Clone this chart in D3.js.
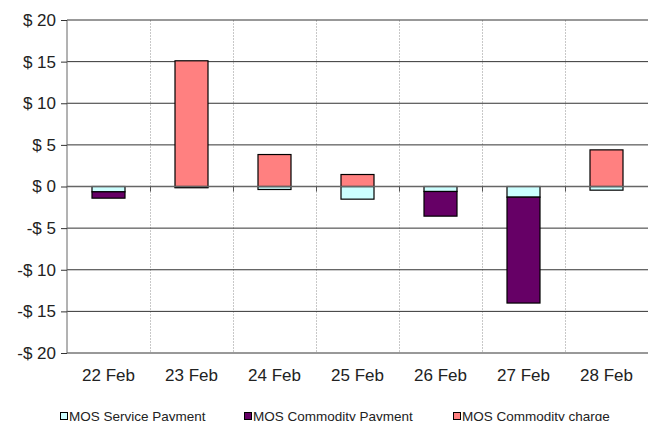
<!DOCTYPE html>
<html>
<head>
<meta charset="utf-8">
<script src="https://cdn.jsdelivr.net/npm/d3@7"></script>
<style>
  body { margin: 0; background: #fff; }
  svg text { font-family: "Liberation Sans", Arial, sans-serif; fill: #222; }
</style>
</head>
<body>
<svg id="chart" width="648" height="421"></svg>
<script>
const days = ["22 Feb", "23 Feb", "24 Feb", "25 Feb", "26 Feb", "27 Feb", "28 Feb"];
const servicePayment   = [-0.64, -0.05, -0.36, -1.52, -0.6, -1.28, -0.44];
const commodityPayment = [-0.76, -0.1, 0, 0, -2.96, -12.72, 0];
const commodityCharge  = [0, 15.1, 3.84, 1.44, 0, 0, 4.4];
const yTicks = [20, 15, 10, 5, 0, -5, -10, -15, -20];

const seriesInfo = [
  { key: "service", label: "MOS Service Payment", color: "#ccffff" },
  { key: "payment", label: "MOS Commodity Payment", color: "#660066" },
  { key: "charge", label: "MOS Commodity charge", color: "#ff8080" }
];

const rows = days.map((d, i) => ({
  day: d,
  service: servicePayment[i],
  payment: commodityPayment[i],
  charge: commodityCharge[i]
}));

const svg = d3.select("#chart");
const margin = { top: 20, right: 0, bottom: 68, left: 67 };
const width = +svg.attr("width");
const height = +svg.attr("height");

const x = d3.scaleBand()
  .domain(days)
  .range([margin.left, width - margin.right])
  .paddingInner(0)
  .paddingOuter(0);

const y = d3.scaleLinear()
  .domain([-20, 20])
  .range([height - margin.bottom, margin.top]);

// vertical dashed gridlines at category boundaries
svg.append("g")
  .selectAll("line")
  .data(days.slice(1))
  .join("line")
  .attr("x1", d => Math.round(x(d)) + 0.5)
  .attr("x2", d => Math.round(x(d)) + 0.5)
  .attr("y1", y(20))
  .attr("y2", y(-20))
  .attr("stroke", "#c8c8c8")
  .attr("stroke-dasharray", "2,1");

// horizontal gridlines
svg.append("g")
  .selectAll("line")
  .data(yTicks.filter(v => v !== 0))
  .join("line")
  .attr("x1", margin.left)
  .attr("x2", width)
  .attr("y1", d => y(d))
  .attr("y2", d => y(d))
  .attr("stroke", "#333")
  .attr("stroke-width", 1);

// y axis
const yAxis = d3.axisLeft(y)
  .tickValues(yTicks)
  .tickSize(6)
  .tickPadding(5)
  .tickFormat(d => d < 0 ? "-$ " + Math.abs(d) : "$ " + d);

const yAxisG = svg.append("g")
  .attr("transform", `translate(${margin.left},0)`)
  .call(yAxis);
yAxisG.select(".domain").attr("stroke", "#666").attr("d", `M0,${y(20)}V${y(-20)}`);
yAxisG.selectAll(".tick line").attr("stroke", "#333");
yAxisG.selectAll("text").style("font-size", "17px").attr("fill", "#222");

// stacked bars
const stack = d3.stack()
  .keys(seriesInfo.map(s => s.key))
  .offset(d3.stackOffsetDiverging);
const stacked = stack(rows);
const bw = 33;

svg.append("g")
  .selectAll("g")
  .data(stacked)
  .join("g")
  .attr("fill", (d, i) => seriesInfo[i].color)
  .selectAll("rect")
  .data(d => d.filter(p => p[1] !== p[0]))
  .join("rect")
  .attr("x", d => x(d.data.day) + x.bandwidth() / 2 - bw / 2)
  .attr("width", bw)
  .attr("y", d => y(Math.max(d[0], d[1])))
  .attr("height", d => Math.abs(y(d[0]) - y(d[1])))
  .attr("stroke", "#000")
  .attr("stroke-width", 1.2);

// zero axis with category tick marks
const xAxisG = svg.append("g")
  .attr("transform", `translate(0,${y(0)})`);
xAxisG.append("line")
  .attr("x1", margin.left)
  .attr("x2", width)
  .attr("stroke", "#666")
  .attr("stroke-width", 1.5);
xAxisG.selectAll(".xt")
  .data(days.slice(1))
  .join("line")
  .attr("class", "xt")
  .attr("x1", d => Math.round(x(d)) + 0.5)
  .attr("x2", d => Math.round(x(d)) + 0.5)
  .attr("y1", 0)
  .attr("y2", 5)
  .attr("stroke", "#555");

// category labels
svg.append("g")
  .selectAll("text")
  .data(days)
  .join("text")
  .attr("x", d => x(d) + x.bandwidth() / 2)
  .attr("y", 381)
  .attr("text-anchor", "middle")
  .style("font-size", "17px")
  .text(d => d);

// legend (bottom edge clips the descenders, as in the original)
const legendX = [60, 244, 453];
const legend = svg.append("g");
const items = legend.selectAll("g")
  .data(seriesInfo)
  .join("g")
  .attr("transform", (d, i) => `translate(${legendX[i]},0)`);
items.append("rect")
  .attr("x", 0.5)
  .attr("y", 412.5)
  .attr("width", 7)
  .attr("height", 7)
  .attr("fill", d => d.color)
  .attr("stroke", "#000");
items.append("text")
  .attr("x", 9)
  .attr("y", 420.5)
  .style("font-size", "13.5px")
  .text(d => d.label);
</script>
</body>
</html>
